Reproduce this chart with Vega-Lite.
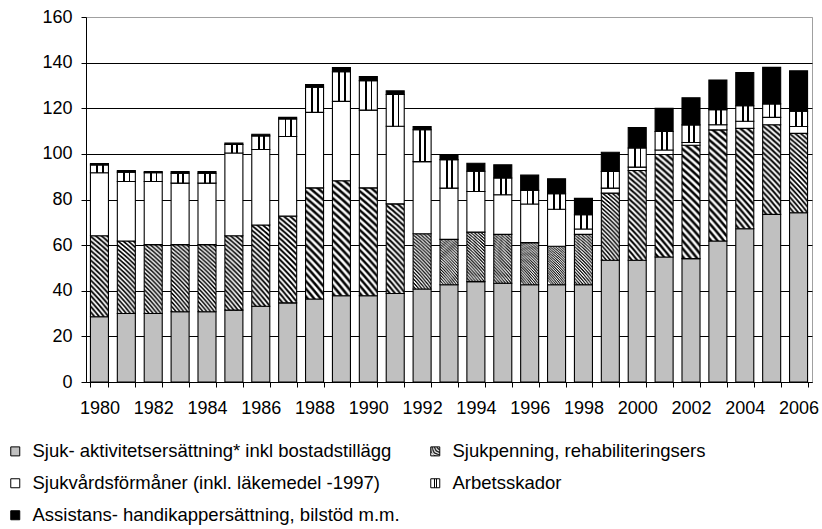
{
  "$schema": "https://vega.github.io/schema/vega-lite/v6.json",
  "width": 726,
  "height": 365,
  "autosize": {"type": "none"},
  "padding": {"left": 86, "top": 17, "right": 10, "bottom": 147},
  "background": "white",
  "config": {
    "view": {"stroke": "#a0a0a0", "strokeWidth": 1},
    "font": "Liberation Sans"
  },
  "datasets": {
    "vals": [
      {"year": 1980, "sa": 28.6, "sp": 35.5, "sv": 27.6, "ar": 3.5, "ah": 0.6},
      {"year": 1981, "sa": 30.0, "sp": 31.8, "sv": 26.1, "ar": 4.1, "ah": 0.7},
      {"year": 1982, "sa": 30.0, "sp": 30.2, "sv": 27.7, "ar": 3.8, "ah": 0.6},
      {"year": 1983, "sa": 30.8, "sp": 29.4, "sv": 27.0, "ar": 4.3, "ah": 0.7},
      {"year": 1984, "sa": 30.8, "sp": 29.4, "sv": 27.0, "ar": 4.3, "ah": 0.7},
      {"year": 1985, "sa": 31.5, "sp": 32.6, "sv": 36.3, "ar": 3.7, "ah": 0.6},
      {"year": 1986, "sa": 33.2, "sp": 35.6, "sv": 33.1, "ar": 6.0, "ah": 0.7},
      {"year": 1987, "sa": 34.7, "sp": 38.0, "sv": 34.9, "ar": 7.7, "ah": 0.7},
      {"year": 1988, "sa": 36.4, "sp": 48.7, "sv": 33.1, "ar": 11.0, "ah": 1.2},
      {"year": 1989, "sa": 37.8, "sp": 50.4, "sv": 34.8, "ar": 13.0, "ah": 1.8},
      {"year": 1990, "sa": 37.8, "sp": 47.3, "sv": 34.1, "ar": 12.9, "ah": 1.8},
      {"year": 1991, "sa": 38.8, "sp": 39.3, "sv": 34.0, "ar": 13.9, "ah": 1.6},
      {"year": 1992, "sa": 40.8, "sp": 24.2, "sv": 31.6, "ar": 14.0, "ah": 1.4},
      {"year": 1993, "sa": 42.6, "sp": 19.9, "sv": 22.5, "ar": 12.5, "ah": 1.8},
      {"year": 1994, "sa": 44.0, "sp": 21.7, "sv": 17.8, "ar": 8.9, "ah": 3.5},
      {"year": 1995, "sa": 43.3, "sp": 21.4, "sv": 17.4, "ar": 7.3, "ah": 5.8},
      {"year": 1996, "sa": 42.6, "sp": 18.5, "sv": 16.9, "ar": 6.0, "ah": 6.7},
      {"year": 1997, "sa": 42.6, "sp": 16.9, "sv": 16.2, "ar": 6.8, "ah": 6.6},
      {"year": 1998, "sa": 42.6, "sp": 22.1, "sv": 2.4, "ar": 6.2, "ah": 7.2},
      {"year": 1999, "sa": 53.4, "sp": 29.4, "sv": 2.2, "ar": 7.3, "ah": 8.4},
      {"year": 2000, "sa": 53.4, "sp": 39.3, "sv": 1.5, "ar": 8.4, "ah": 8.9},
      {"year": 2001, "sa": 54.8, "sp": 44.9, "sv": 2.0, "ar": 8.1, "ah": 10.2},
      {"year": 2002, "sa": 54.1, "sp": 49.7, "sv": 1.2, "ar": 7.7, "ah": 11.9},
      {"year": 2003, "sa": 61.8, "sp": 48.7, "sv": 2.3, "ar": 6.6, "ah": 13.0},
      {"year": 2004, "sa": 67.2, "sp": 44.0, "sv": 3.1, "ar": 6.8, "ah": 14.6},
      {"year": 2005, "sa": 73.5, "sp": 39.3, "sv": 3.2, "ar": 5.9, "ah": 16.0},
      {"year": 2006, "sa": 74.2, "sp": 34.8, "sv": 3.0, "ar": 6.7, "ah": 17.7}
    ],
    "series": [
      {"key": "sa", "k": 1, "name": "Sjuk- aktivitetsersättning* inkl bostadstillägg"},
      {"key": "sp", "k": 2, "name": "Sjukpenning, rehabiliteringsers"},
      {"key": "sv", "k": 3, "name": "Sjukvårdsförmåner (inkl. läkemedel -1997)"},
      {"key": "ar", "k": 4, "name": "Arbetsskador"},
      {"key": "ah", "k": 5, "name": "Assistans- handikappersättning, bilstöd m.m."}
    ]
  },
  "data": {"name": "vals"},
  "transform": [
    {"fold": ["sa", "sp", "sv", "ar", "ah"], "as": ["key", "value"]},
    {"lookup": "key", "from": {"data": {"name": "series"}, "key": "key", "fields": ["name", "k"]}}
  ],
  "mark": {"type": "bar", "stroke": "black", "strokeWidth": 1.1},
  "encoding": {
    "x": {
      "field": "year",
      "type": "ordinal",
      "scale": {"paddingInner": 0.33, "paddingOuter": 0.165},
      "axis": {
        "title": null,
        "labelAngle": 0,
        "labelExpr": "datum.value % 2 == 0 ? datum.label : ''",
        "labelOverlap": false,
        "labelFontSize": 18,
        "labelFont": "Liberation Sans",
        "labelColor": "black",
        "labelPadding": 12,
        "tickSize": 5,
        "tickColor": "black",
        "domainColor": "black",
        "tickBand": "extent",
        "grid": false
      }
    },
    "y": {
      "field": "value",
      "type": "quantitative",
      "stack": "zero",
      "scale": {"domain": [0, 160], "nice": false},
      "axis": {
        "title": null,
        "values": [0, 20, 40, 60, 80, 100, 120, 140, 160],
        "labelFontSize": 18,
        "labelFont": "Liberation Sans",
        "labelColor": "black",
        "labelPadding": 9,
        "tickSize": 5,
        "tickColor": "black",
        "domainColor": "black",
        "grid": true,
        "gridColor": {"condition": {"test": "datum.value == 160", "value": "#a0a0a0"}, "value": "#000000"},
        "gridOpacity": 1,
        "gridWidth": 1
      }
    },
    "color": {
      "field": "name",
      "type": "nominal",
      "scale": {
        "domain": [
          "Sjuk- aktivitetsersättning* inkl bostadstillägg",
          "Sjukpenning, rehabiliteringsers",
          "Sjukvårdsförmåner (inkl. läkemedel -1997)",
          "Arbetsskador",
          "Assistans- handikappersättning, bilstöd m.m."
        ],
        "range": [
          "#c0c0c0",
          {"expr": "{gradient:'radial',x1:-2,y1:3,r1:0,x2:-2,y2:3,r2:4.5,stops:[{offset:0,color:'#fff'},{offset:0.6875,color:'#fff'},{offset:0.69,color:'#000'},{offset:0.6925,color:'#000'},{offset:0.695,color:'#fff'},{offset:0.6975,color:'#fff'},{offset:0.70,color:'#000'},{offset:0.7025,color:'#000'},{offset:0.705,color:'#fff'},{offset:0.7075,color:'#fff'},{offset:0.71,color:'#000'},{offset:0.7125,color:'#000'},{offset:0.715,color:'#fff'},{offset:0.7175,color:'#fff'},{offset:0.72,color:'#000'},{offset:0.7225,color:'#000'},{offset:0.725,color:'#fff'},{offset:0.7275,color:'#fff'},{offset:0.73,color:'#000'},{offset:0.7325,color:'#000'},{offset:0.735,color:'#fff'},{offset:0.7375,color:'#fff'},{offset:0.74,color:'#000'},{offset:0.7425,color:'#000'},{offset:0.745,color:'#fff'},{offset:0.7475,color:'#fff'},{offset:0.75,color:'#000'},{offset:0.7525,color:'#000'},{offset:0.755,color:'#fff'},{offset:0.7575,color:'#fff'},{offset:0.76,color:'#000'},{offset:0.7625,color:'#000'},{offset:0.765,color:'#fff'},{offset:0.7675,color:'#fff'},{offset:0.77,color:'#000'},{offset:0.7725,color:'#000'},{offset:0.775,color:'#fff'},{offset:0.7775,color:'#fff'},{offset:0.78,color:'#000'},{offset:0.7825,color:'#000'},{offset:0.785,color:'#fff'},{offset:0.7875,color:'#fff'},{offset:0.79,color:'#000'},{offset:0.7925,color:'#000'},{offset:0.795,color:'#fff'},{offset:0.7975,color:'#fff'},{offset:0.80,color:'#000'},{offset:0.8025,color:'#000'},{offset:0.805,color:'#fff'},{offset:0.8075,color:'#fff'},{offset:0.81,color:'#000'},{offset:0.8125,color:'#000'},{offset:0.815,color:'#fff'},{offset:0.8175,color:'#fff'},{offset:0.82,color:'#000'},{offset:0.8225,color:'#000'},{offset:0.825,color:'#fff'},{offset:0.8275,color:'#fff'},{offset:0.83,color:'#000'},{offset:0.8325,color:'#000'},{offset:0.835,color:'#fff'},{offset:0.8375,color:'#fff'},{offset:0.84,color:'#000'},{offset:0.8425,color:'#000'},{offset:0.845,color:'#fff'},{offset:0.8475,color:'#fff'},{offset:0.85,color:'#000'},{offset:0.8525,color:'#000'},{offset:0.855,color:'#fff'},{offset:0.8575,color:'#fff'},{offset:0.86,color:'#000'},{offset:0.8625,color:'#000'},{offset:0.865,color:'#fff'},{offset:0.8675,color:'#fff'},{offset:0.87,color:'#000'},{offset:0.8725,color:'#000'},{offset:0.875,color:'#fff'},{offset:0.8775,color:'#fff'},{offset:0.88,color:'#000'},{offset:0.8825,color:'#000'},{offset:0.885,color:'#fff'},{offset:0.8875,color:'#fff'},{offset:0.89,color:'#000'},{offset:0.8925,color:'#000'},{offset:0.895,color:'#fff'},{offset:1,color:'#fff'}]}"},
          "#ffffff",
          {"expr": "{gradient:'linear',x1:0,y1:0,x2:1,y2:0,stops:[{offset:0,color:'#fff'},{offset:0.33,color:'#fff'},{offset:0.33,color:'#000'},{offset:0.43,color:'#000'},{offset:0.43,color:'#fff'},{offset:0.63,color:'#fff'},{offset:0.63,color:'#000'},{offset:0.73,color:'#000'},{offset:0.73,color:'#fff'},{offset:1,color:'#fff'}]}"},
          "#000000"
        ]
      },
      "legend": {
        "title": null,
        "orient": "none",
        "legendX": -80,
        "legendY": 425,
        "direction": "horizontal",
        "columns": 2,
        "columnPadding": 26,
        "rowPadding": 13,
        "symbolType": "square",
        "symbolSize": 81,
        "symbolStrokeColor": "black",
        "symbolStrokeWidth": 1,
        "symbolOpacity": 1,
        "labelFontSize": 18.5,
        "labelFont": "Liberation Sans",
        "labelColor": "black",
        "labelOffset": 8,
        "labelLimit": 600
      }
    },
    "order": {"field": "k", "type": "quantitative"}
  }
}
